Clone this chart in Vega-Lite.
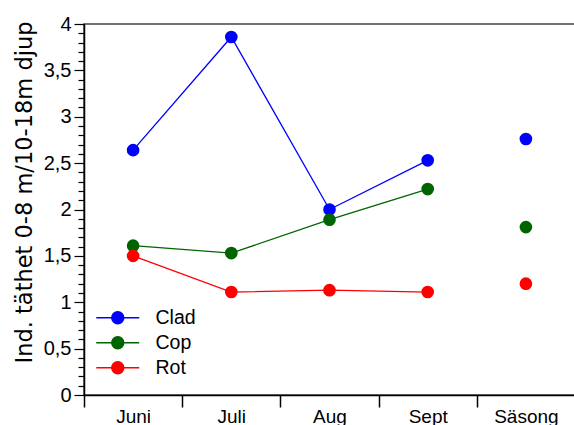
{
  "$schema": "https://vega.github.io/schema/vega-lite/v6.json",
  "autosize": {"type": "none"},
  "padding": {"left": 84, "top": 24, "right": 0, "bottom": 30},
  "width": 491,
  "height": 371,
  "background": "white",
  "config": {
    "font": "Liberation Sans",
    "view": {"stroke": "#444444", "strokeWidth": 1.5},
    "axis": {"domainColor": "black", "tickColor": "black", "labelColor": "black", "titleColor": "black", "grid": false}
  },
  "data": {
    "values": [
      {"month": "Juni", "series": "Clad", "value": 2.64},
      {"month": "Juli", "series": "Clad", "value": 3.86},
      {"month": "Aug", "series": "Clad", "value": 2.0},
      {"month": "Sept", "series": "Clad", "value": 2.53},
      {"month": "Säsong", "series": "Clad", "value": 2.76},
      {"month": "Juni", "series": "Cop", "value": 1.61},
      {"month": "Juli", "series": "Cop", "value": 1.53},
      {"month": "Aug", "series": "Cop", "value": 1.89},
      {"month": "Sept", "series": "Cop", "value": 2.22},
      {"month": "Säsong", "series": "Cop", "value": 1.81},
      {"month": "Juni", "series": "Rot", "value": 1.5},
      {"month": "Juli", "series": "Rot", "value": 1.11},
      {"month": "Aug", "series": "Rot", "value": 1.13},
      {"month": "Sept", "series": "Rot", "value": 1.11},
      {"month": "Säsong", "series": "Rot", "value": 1.2}
    ]
  },
  "encoding": {
    "x": {
      "field": "month",
      "type": "nominal",
      "sort": ["Juni", "Juli", "Aug", "Sept", "Säsong"],
      "scale": {"type": "band", "paddingInner": 0, "paddingOuter": 0},
      "axis": {
        "title": null,
        "labelAngle": 0,
        "labelFontSize": 19,
        "tickBand": "extent",
        "tickSize": 12,
        "labelPadding": 0,
        "domainWidth": 1.5,
        "tickWidth": 1.5
      }
    },
    "y": {
      "field": "value",
      "type": "quantitative",
      "scale": {"domain": [0, 4], "nice": false, "zero": true},
      "axis": {
        "title": "Ind. täthet 0-8 m/10-18m djup",
        "titleFont": "DejaVu Sans",
        "titleFontSize": 22.5,
        "titleFontWeight": "normal",
        "titleAngle": 270,
        "titleBaseline": "alphabetic",
        "titleAlign": "center",
        "titleX": -53,
        "titleY": 168,
        "values": [0, 0.1, 0.2, 0.3, 0.4, 0.5, 0.6, 0.7, 0.8, 0.9, 1, 1.1, 1.2, 1.3, 1.4, 1.5, 1.6, 1.7, 1.8, 1.9, 2, 2.1, 2.2, 2.3, 2.4, 2.5, 2.6, 2.7, 2.8, 2.9, 3, 3.1, 3.2, 3.3, 3.4, 3.5, 3.6, 3.7, 3.8, 3.9, 4],
        "labelExpr": "abs(datum.value * 2 - round(datum.value * 2)) < 0.001 ? replace(format(datum.value, '.1~f'), '.', ',') : ''",
        "labelOverlap": false,
        "labelFontSize": 20,
        "labelPadding": 3,
        "tickSize": {"condition": {"test": "abs(datum.value * 2 - round(datum.value * 2)) < 0.001", "value": 10}, "value": 6},
        "domainWidth": 1.5,
        "tickWidth": 1.2
      }
    },
    "color": {
      "field": "series",
      "type": "nominal",
      "scale": {"domain": ["Clad", "Cop", "Rot"], "range": ["#0000ff", "#006400", "#ff0000"]},
      "legend": {
        "title": null,
        "orient": "none",
        "legendX": 24,
        "legendY": 284,
        "padding": 0,
        "labelFontSize": 19.5,
        "labelColor": "black",
        "labelOffset": 28,
        "symbolType": "M-3.58,0H3.58M-1,0A1,1,0,1,1,1,0A1,1,0,1,1,-1,0Z",
        "symbolSize": 144,
        "symbolStrokeWidth": 1.5,
        "rowPadding": 4,
        "encode": {
          "symbols": {
            "update": {
              "fill": {"scale": "color", "field": "value"},
              "stroke": {"scale": "color", "field": "value"},
              "opacity": {"value": 1}
            }
          }
        }
      }
    }
  },
  "layer": [
    {
      "transform": [{"filter": "datum.month !== 'Säsong'"}],
      "mark": {"type": "line", "strokeWidth": 1.3}
    },
    {
      "mark": {"type": "point", "filled": true, "opacity": 1, "size": 160}
    }
  ]
}
